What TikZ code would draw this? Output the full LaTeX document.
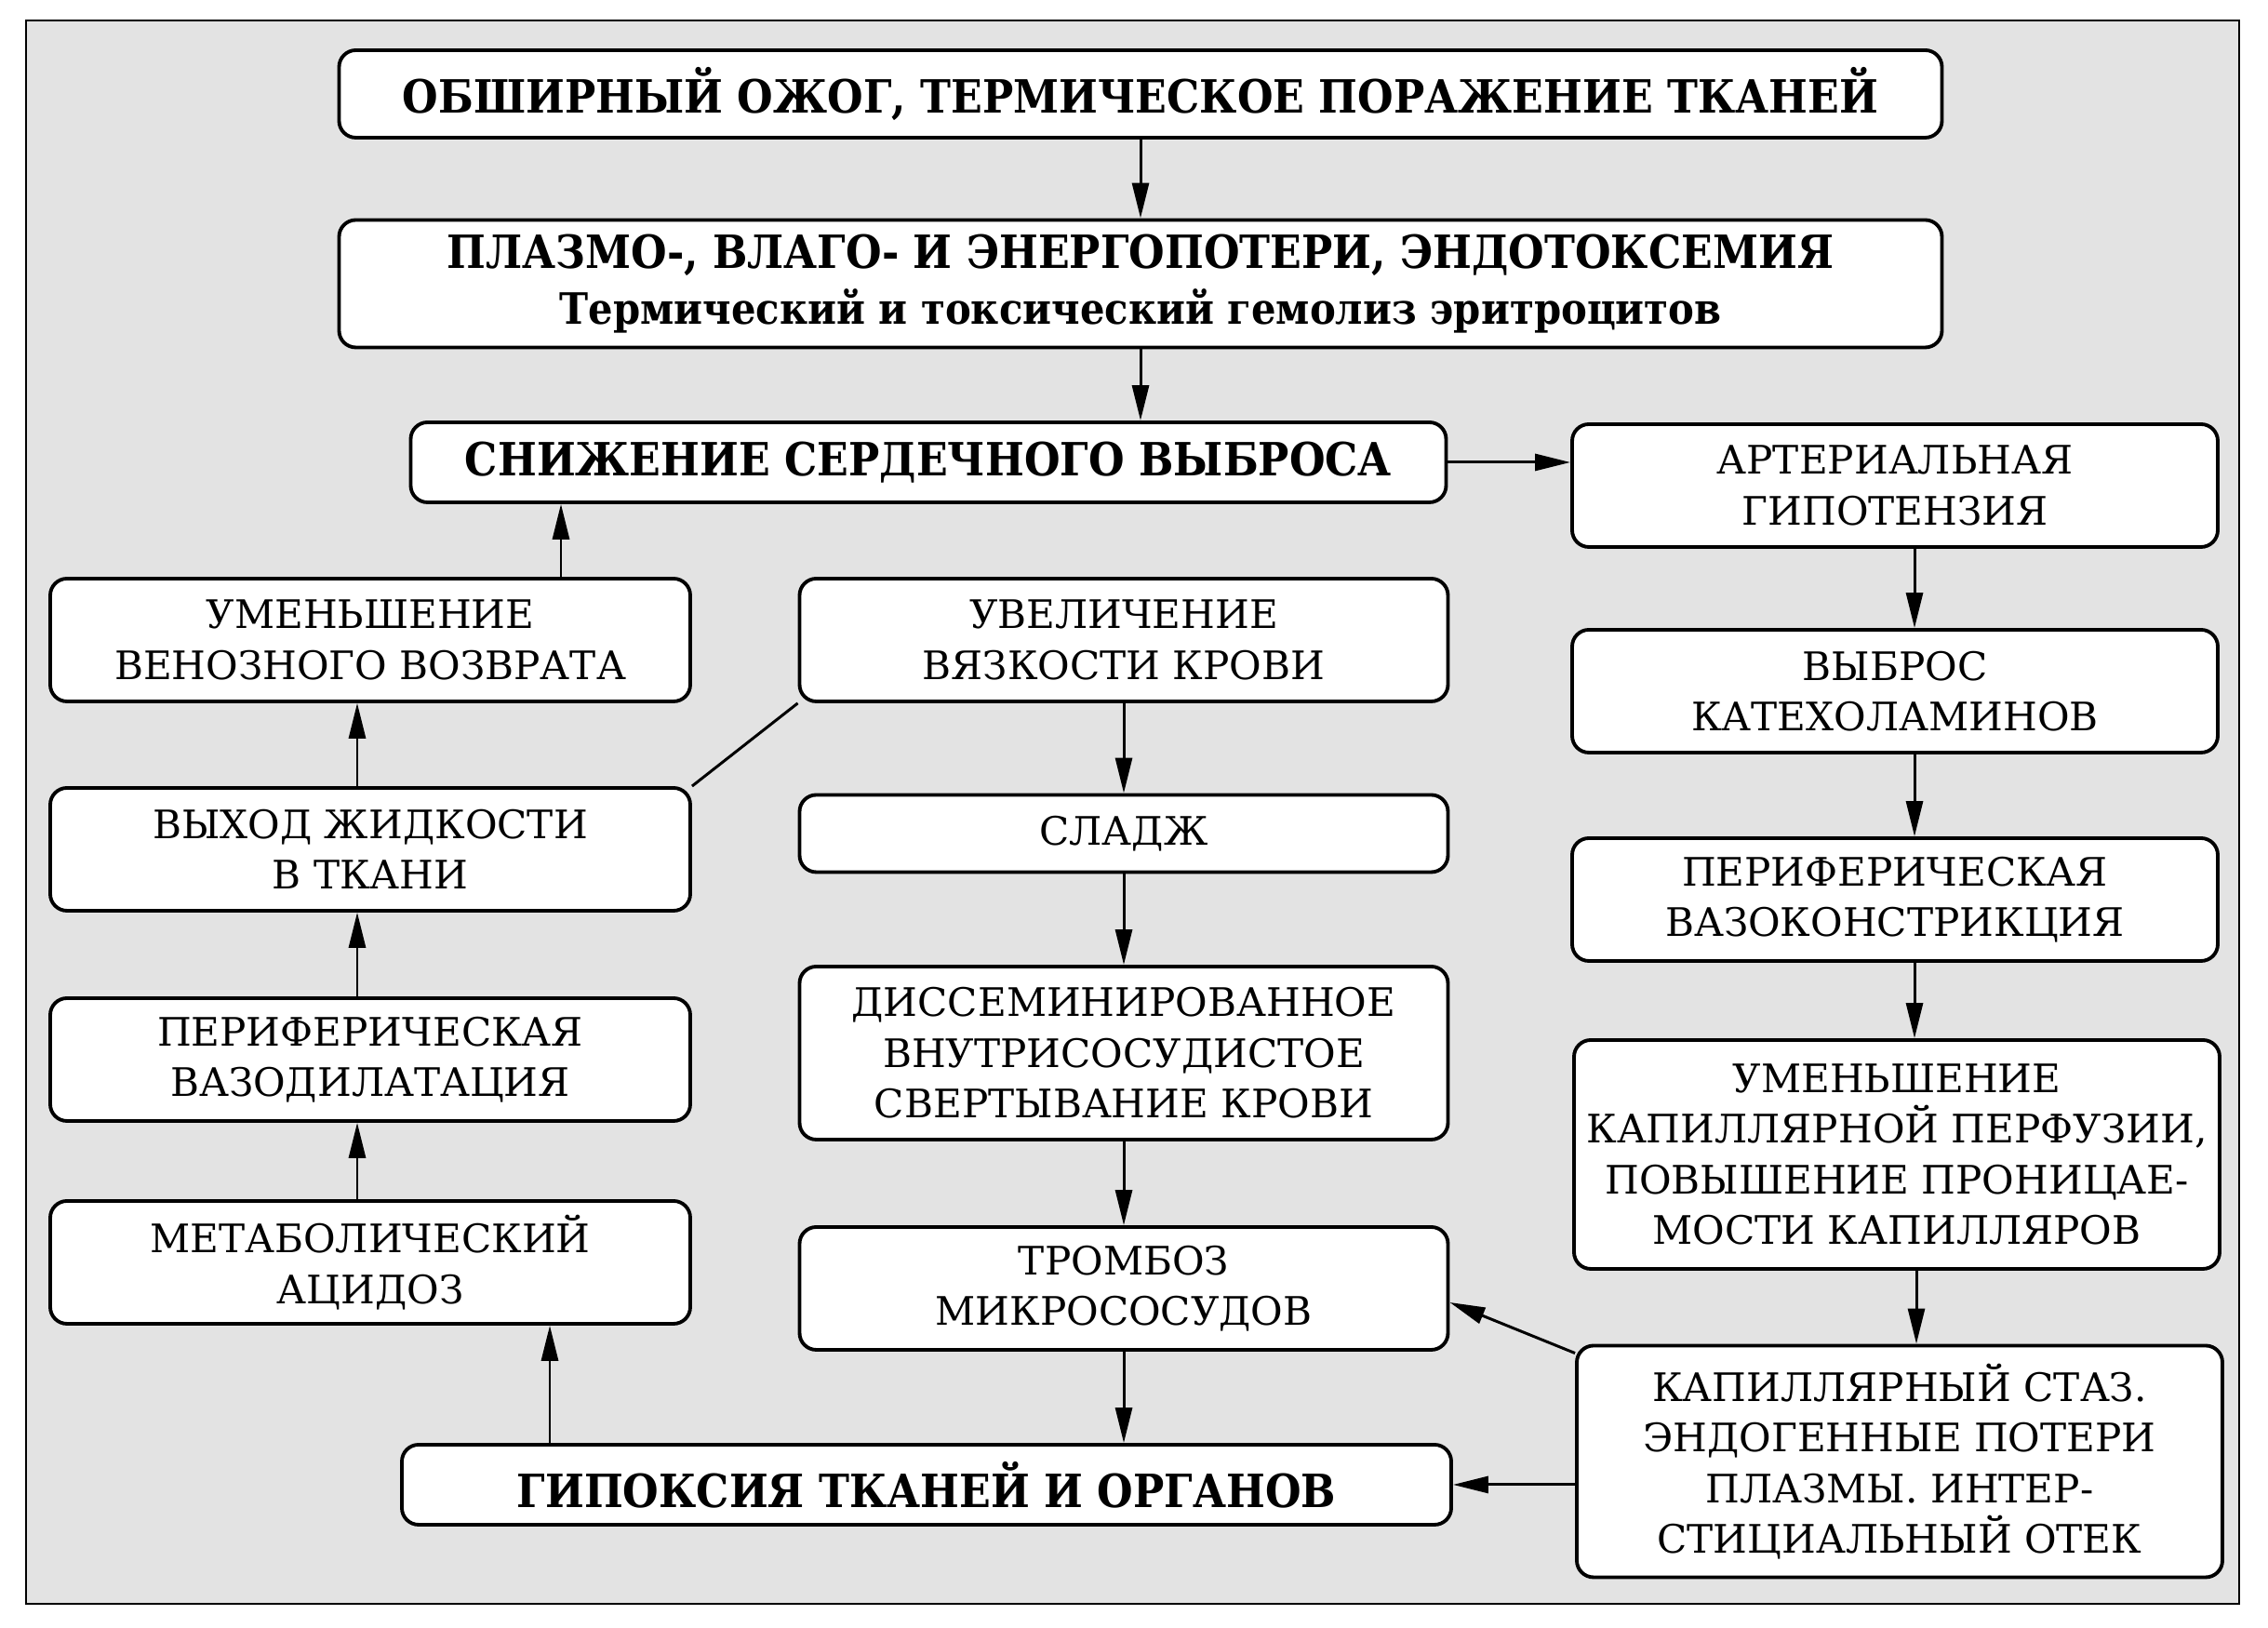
\documentclass[tikz,border=0pt]{standalone}
\usepackage{fontspec}
\setmainfont{DejaVu Serif}[BoldFeatures={FakeStretch=0.9}]
\usetikzlibrary{arrows.meta}

\begin{document}
\begin{tikzpicture}[x=1cm, y=1cm, >={Triangle[length=3.8mm,width=1.8mm]}, line width=0.6pt,
  box/.style={draw=black, line width=1.1pt, fill=white, rounded corners=1.8mm,
    align=center, inner sep=0pt, font=\fontsize{12}{15.5}\selectfont},
  head/.style={box, font=\bfseries\fontsize{14}{17}\selectfont},
  wide/.style={head, minimum width=17.23cm, minimum height=0.94cm},
  lcol/.style={box, minimum width=6.88cm, minimum height=1.32cm},
  mcol/.style={box, minimum width=6.97cm, minimum height=1.32cm},
  rcol/.style={box, minimum width=6.94cm, minimum height=1.32cm},
  arr/.style={->, line width=0.85pt}]
  \useasboundingbox (0,0) rectangle (24.38,17.5);
  \draw[fill=black!11] (0.28,0.26) rectangle (24.07,17.28);

  % top of the chain
  \node[wide] (burn) at (12.26,16.49) {ОБШИРНЫЙ ОЖОГ, ТЕРМИЧЕСКОЕ ПОРАЖЕНИЕ ТКАНЕЙ};
  \node[wide, minimum height=1.37cm] (loss) at (12.26,14.45)
    {ПЛАЗМО-, ВЛАГО- И ЭНЕРГОПОТЕРИ, ЭНДОТОКСЕМИЯ\\
     \fontsize{13.2}{16.2}\selectfont Термический и токсический гемолиз эритроцитов};
  \node[head, minimum width=11.13cm, minimum height=0.86cm] (output) at (9.98,12.53)
    {СНИЖЕНИЕ СЕРДЕЧНОГО ВЫБРОСА};

  % right column
  \node[rcol] (hypot) at (20.37,12.28) {АРТЕРИАЛЬНАЯ\\ГИПОТЕНЗИЯ};
  \node[rcol] (catech) at (20.37,10.07) {ВЫБРОС\\КАТЕХОЛАМИНОВ};
  \node[rcol] (constr) at (20.37,7.83) {ПЕРИФЕРИЧЕСКАЯ\\ВАЗОКОНСТРИКЦИЯ};
  \node[rcol, minimum height=2.46cm] (perfus) at (20.39,5.09)
    {УМЕНЬШЕНИЕ\\КАПИЛЛЯРНОЙ ПЕРФУЗИИ,\\ПОВЫШЕНИЕ ПРОНИЦАЕ-\\МОСТИ КАПИЛЛЯРОВ};
  \node[rcol, minimum height=2.49cm] (stasis) at (20.42,1.79)
    {КАПИЛЛЯРНЫЙ СТАЗ.\\ЭНДОГЕННЫЕ ПОТЕРИ\\ПЛАЗМЫ. ИНТЕР-\\СТИЦИАЛЬНЫЙ ОТЕК};

  % left column
  \node[lcol] (venous) at (3.98,10.62) {УМЕНЬШЕНИЕ\\ВЕНОЗНОГО ВОЗВРАТА};
  \node[lcol] (efflux) at (3.98,8.37) {ВЫХОД ЖИДКОСТИ\\В ТКАНИ};
  \node[lcol] (dilat) at (3.98,6.11) {ПЕРИФЕРИЧЕСКАЯ\\ВАЗОДИЛАТАЦИЯ};
  \node[lcol] (acid) at (3.98,3.93) {МЕТАБОЛИЧЕСКИЙ\\АЦИДОЗ};

  % middle column
  \node[mcol] (visc) at (12.08,10.62) {УВЕЛИЧЕНИЕ\\ВЯЗКОСТИ КРОВИ};
  \node[mcol, minimum height=0.83cm] (sludge) at (12.08,8.54) {СЛАДЖ};
  \node[mcol, minimum height=1.86cm] (dic) at (12.08,6.18)
    {ДИССЕМИНИРОВАННОЕ\\ВНУТРИСОСУДИСТОЕ\\СВЕРТЫВАНИЕ КРОВИ};
  \node[mcol] (thromb) at (12.08,3.65) {ТРОМБОЗ\\МИКРОСОСУДОВ};
  \node[head, minimum width=11.28cm, minimum height=0.86cm] (hypox) at (9.96,1.54)
    {ГИПОКСИЯ ТКАНЕЙ И ОРГАНОВ};

  % connectors
  \draw[arr] (burn) -- (loss);
  \draw[arr] (loss.south) -- (loss.south |- output.north);
  \draw[arr] (output.east) -- (output.east -| hypot.west);
  \foreach \a/\b in {hypot/catech, catech/constr, constr/perfus, perfus/stasis}
    \draw[arr] ([xshift=2.1mm]\a.south) -- ([xshift=2.1mm]\a.south |- \b.north);
  \foreach \a/\b in {visc/sludge, sludge/dic, dic/thromb, thromb/hypox}
    \draw[arr] (\a.south) -- (\a.south |- \b.north);
  \foreach \a/\b in {acid/dilat, dilat/efflux, efflux/venous}
    \draw[arr] ([xshift=-1.4mm]\a.north) -- ([xshift=-1.4mm]\a.north |- \b.south);
  \draw[arr] ([xshift=20.5mm]venous.north) -- ([xshift=20.5mm]venous.north |- output.south);
  \draw[arr] ([xshift=19.3mm]acid.south |- hypox.north) -- ([xshift=19.3mm]acid.south);
  \draw[arr] (stasis.west |- hypox.east) -- (hypox.east);
  \draw[arr] ([yshift=-1mm]stasis.north west) -- ([yshift=-1.5mm]thromb.east);
  \draw[line width=0.85pt] (visc.south west) -- (efflux.north east);
\end{tikzpicture}
\end{document}
